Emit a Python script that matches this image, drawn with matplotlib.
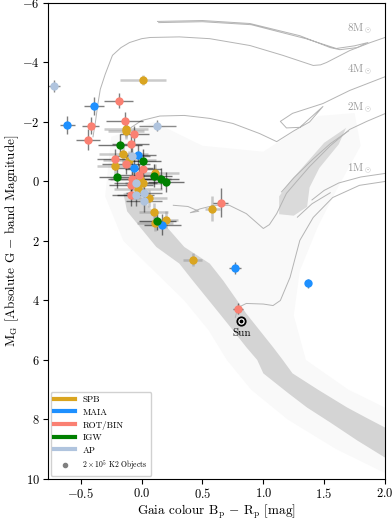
import matplotlib
matplotlib.use("Agg")
import matplotlib.pyplot as plt
from matplotlib.lines import Line2D
import numpy as np

plt.rcParams['font.family'] = 'serif'
plt.rcParams['font.serif'] = ['cmr10']
plt.rcParams['mathtext.fontset'] = 'cm'
plt.rcParams['axes.formatter.use_mathtext'] = True
plt.rcParams['axes.unicode_minus'] = True

# ---------------- data ----------------
classes = ['SPB', 'MAIA', 'ROT/BIN', 'IGW', 'AP']
class_colors = ['goldenrod', 'dodgerblue', 'salmon', 'green', 'lightsteelblue']

spb_x = [0.01, -0.13, -0.13, -0.15, -0.10, -0.22, 0.11, -0.01, 0.01, -0.03, 0.06, 0.10, 0.11, 0.20, 0.58, 0.42]
spb_y = [-3.40, -1.76, -1.68, -0.93, -0.73, -0.53, -0.30, -0.10, 0.05, 0.24, 0.57, 1.04, 1.38, 1.28, 0.91, 2.63]
spb_xe = [0.19, 0.18, 0.15, 0.20, 0.22, 0.15, 0.20, 0.25, 0.15, 0.20, 0.15, 0.12, 0.15, 0.10, 0.06, 0.08]
spb_ye = [0.17, 0.25, 0.25, 0.30, 0.30, 0.30, 0.30, 0.30, 0.30, 0.30, 0.30, 0.30, 0.30, 0.30, 0.42, 0.22]

maia_x = [-0.39, -0.61, -0.03, -0.06, 0.17, 0.77, 1.37]
maia_y = [-2.55, -1.90, -0.88, -0.46, 1.45, 2.92, 3.42]
maia_xe = [0.08, 0.06, 0.15, 0.15, 0.15, 0.05, 0.02]
maia_ye = [0.30, 0.30, 0.35, 0.35, 0.35, 0.20, 0.15]

rot_x = [-0.19, -0.42, -0.44, -0.14, -0.06, -0.09, -0.22, -0.13, 0.01, -0.02, -0.08, -0.09, -0.09, 0.65, 0.79]
rot_y = [-2.72, -1.88, -1.40, -2.03, -1.58, -1.26, -0.75, -0.60, -0.43, -0.23, -0.07, 0.13, 0.47, 0.71, 4.27]
rot_xe = [0.12, 0.07, 0.10, 0.15, 0.12, 0.15, 0.15, 0.20, 0.15, 0.18, 0.20, 0.18, 0.15, 0.06, 0.04]
rot_ye = [0.25, 0.30, 0.35, 0.30, 0.30, 0.35, 0.35, 0.35, 0.35, 0.35, 0.35, 0.35, 0.35, 0.50, 0.17]

igw_x = [-0.18, 0.01, 0.10, -0.20, 0.16, 0.20, 0.13]
igw_y = [-1.24, -0.70, -0.20, -0.14, -0.10, 0.02, 1.34]
igw_xe = [0.18, 0.15, 0.15, 0.15, 0.15, 0.15, 0.15]
igw_ye = [0.35, 0.40, 0.40, 0.35, 0.35, 0.35, 0.30]

ap_x = [-0.72, 0.13, -0.08, -0.05, -0.05, 0.02, 0.02]
ap_y = [-3.20, -1.88, -0.87, 0.06, 0.47, 0.40, 0.67]
ap_xe = [0.05, 0.15, 0.15, 0.18, 0.15, 0.15, 0.15]
ap_ye = [0.20, 0.20, 0.35, 0.35, 0.35, 0.35, 0.35]

sun_x, sun_y = 0.82, 4.68

# evolutionary tracks (Bp-Rp, M_G)
trk_top_x = [0.13, 0.50, 0.89, 1.30, 1.55, 1.63, 1.77, 1.86, 1.75, 1.60, 1.35, 0.90, 0.50, 0.14]
trk_top_y = [-5.38, -5.41, -5.31, -4.90, -4.50, -4.43, -4.50, -4.67, -4.56, -4.47, -4.80, -5.27, -5.37, -5.34]
trk8_x = [-0.40, -0.38, -0.36, -0.34, -0.30, -0.24, -0.17, -0.10, 0.00, 0.07, 0.31, 0.56, 0.89, 1.16, 1.41, 1.47, 1.52, 1.71, 1.88, 2.00]
trk8_y = [-1.50, -2.00, -2.60, -3.10, -3.60, -4.24, -4.50, -4.67, -4.80, -4.84, -4.86, -4.80, -4.57, -4.24, -3.90, -3.92, -4.00, -4.40, -4.67, -4.84]
trk4_x = [-0.12, -0.10, 0.00, 0.15, 0.35, 0.56, 0.75, 0.97, 1.11, 1.25, 1.38, 1.49, 1.30, 1.19, 1.14, 1.24, 1.49, 1.71, 2.00]
trk4_y = [-1.71, -1.78, -2.05, -2.20, -2.22, -2.12, -1.95, -1.61, -1.34, -1.70, -2.00, -2.52, -1.82, -1.80, -2.02, -2.29, -2.62, -3.06, -3.52]
trk2_x = [0.26, 0.38, 0.47, 0.40, 0.48, 0.60, 0.72, 0.86, 1.00, 1.05, 1.11, 1.19, 1.28, 1.38, 1.55, 1.71, 1.85, 2.00]
trk2_y = [0.80, 0.84, 1.00, 1.05, 0.92, 0.80, 0.80, 1.08, 1.58, 1.45, 1.08, 0.40, -0.03, -0.50, -1.20, -1.75, -2.02, -2.28]
trk2b_x = [1.15, 1.25, 1.40, 1.55, 1.70]
trk2b_y = [0.35, -0.12, -0.72, -1.27, -1.70]
trk1_x = [0.77, 0.79, 0.86, 1.00, 1.08, 1.14, 1.22, 1.30, 1.41, 1.57, 1.79, 2.00]
trk1_y = [4.57, 4.24, 4.10, 4.12, 4.17, 4.00, 3.22, 1.98, 1.21, 0.54, 0.13, 0.00]
trk1b_x = [1.40, 1.50, 1.62, 1.80, 2.00]
trk1b_y = [0.62, 0.30, 0.05, -0.15, -0.27]
trk1c_x = [1.28, 1.40, 1.55]
trk1c_y = [1.20, 0.75, 0.38]

track_labels = ['8M$_\\odot$', '4M$_\\odot$', '2M$_\\odot$', '1M$_\\odot$']
track_label_y = [-5.14, -3.76, -2.49, -0.43]

# K2 background density outlines (main-sequence band, giant clump, faint halo)
ms_x = [-0.05, 0.05, 0.20, 0.35, 0.56, 0.67, 0.86, 1.08, 1.16, 1.24, 1.45, 1.69, 1.85, 2.00,
        2.00, 1.77, 1.55, 1.36, 1.20, 1.00, 0.95, 0.86, 0.75, 0.64, 0.42, 0.31, 0.12, 0.00, -0.12, -0.15]
ms_y = [0.30, 0.80, 1.50, 2.20, 2.76, 3.33, 4.44, 5.57, 6.00, 6.45, 7.00, 7.60, 7.95, 8.27,
        9.28, 8.70, 8.10, 7.60, 7.10, 6.45, 6.00, 5.57, 5.00, 4.44, 3.33, 2.76, 2.20, 1.60, 1.00, 0.40]
rg_x = [1.13, 1.13, 1.22, 1.35, 1.50, 1.68, 1.62, 1.46, 1.38, 1.36, 1.25]
rg_y = [1.10, 0.50, 0.00, -0.60, -1.30, -1.80, -1.25, -0.45, 0.20, 0.85, 1.15]
halo_x = [-0.25, 0.10, 0.50, 1.00, 1.45, 1.75, 1.80, 1.60, 1.45, 1.30, 1.25, 1.35, 1.70, 2.00,
          2.00, 1.60, 1.20, 0.90, 0.70, 0.55, 0.35, 0.10, -0.15, -0.30]
halo_y = [-1.50, -2.00, -1.20, -1.00, -2.20, -2.30, -1.20, 0.30, 1.50, 3.00, 4.50, 6.00, 7.00, 7.60,
          9.80, 9.00, 8.00, 7.00, 6.00, 5.00, 4.00, 3.00, 2.00, 0.50]

# ---------------- plot ----------------
fig = plt.figure(figsize=(3.92, 5.22), dpi=100)
ax = fig.add_axes([0.1224, 0.0824, 0.8597, 0.9119])

ax.fill(halo_x, halo_y, color='#f9f9f9', lw=0, zorder=0)
ax.fill(ms_x, ms_y, color='#d4d4d4', lw=0, zorder=1)
ax.fill(rg_x, rg_y, color='#dadada', lw=0, zorder=1)

tcol = '#b4b4b4'
for tx, ty in [(trk_top_x, trk_top_y), (trk8_x, trk8_y), (trk4_x, trk4_y), (trk2_x, trk2_y),
               (trk2b_x, trk2b_y), (trk1_x, trk1_y), (trk1b_x, trk1b_y), (trk1c_x, trk1c_y)]:
    ax.plot(tx, ty, color=tcol, lw=0.7, zorder=2)
for lab, ly in zip(track_labels, track_label_y):
    ax.text(1.79, ly, lab, color='#999999', fontsize=8, ha='center', va='center', zorder=3)

groups = [(spb_x, spb_y, spb_xe, spb_ye), (maia_x, maia_y, maia_xe, maia_ye),
          (rot_x, rot_y, rot_xe, rot_ye), (igw_x, igw_y, igw_xe, igw_ye),
          (ap_x, ap_y, ap_xe, ap_ye)]
ecolors = [(0.55, 0.55, 0.55, 0.45), (0, 0, 0, 0.5), (0, 0, 0, 0.5), (0, 0, 0, 0.55), (0, 0, 0, 0.45)]
elws = [1.8, 1.0, 1.0, 1.0, 1.0]
for (gx, gy, gxe, gye), ec, ew in zip(groups, ecolors, elws):
    ax.errorbar(gx, gy, xerr=gxe, yerr=gye, fmt='none', ecolor=ec,
                elinewidth=ew, capsize=0, zorder=4)
for (gx, gy, gxe, gye), c in zip(groups, class_colors):
    ax.plot(gx, gy, 'o', color=c, ms=6, mew=0, zorder=5)

ax.plot(sun_x, sun_y, 'o', ms=6, mfc='white', mec='black', mew=1.3, zorder=6)
ax.plot(sun_x, sun_y, 'o', ms=1.8, color='black', zorder=7)
ax.text(sun_x, sun_y + 0.42, 'Sun', fontsize=8, ha='center', va='center', zorder=7)

ax.set_xlim(-0.77, 2.0)
ax.set_ylim(10, -6)
ax.set_xticks([-0.5, 0.0, 0.5, 1.0, 1.5, 2.0])
ax.set_yticks([-6, -4, -2, 0, 2, 4, 6, 8, 10])
ax.tick_params(labelsize=9, pad=2.5)
ax.set_xlabel('Gaia colour B$_{\\rm p}$ $-$ R$_{\\rm p}$ [mag]', fontsize=9.5, labelpad=1)
ax.set_ylabel('M$_{\\rm G}$ [Absolute G $-$ band Magnitude]', fontsize=9.5, labelpad=1)

handles = [Line2D([], [], color=c, lw=3) for c in class_colors]
handles.append(Line2D([], [], color='grey', marker='o', ms=3, lw=0))
labels = classes + ['$2 \\times 10^5$ K2 Objects']
leg = ax.legend(handles, labels, loc='lower left', fontsize=6.5, borderaxespad=0.3,
                handlelength=2.3, framealpha=0.9, labelspacing=0.45)
for t in leg.get_texts()[-1:]:
    t.set_fontsize(5.5)

fig.savefig('out.png', dpi=100)
